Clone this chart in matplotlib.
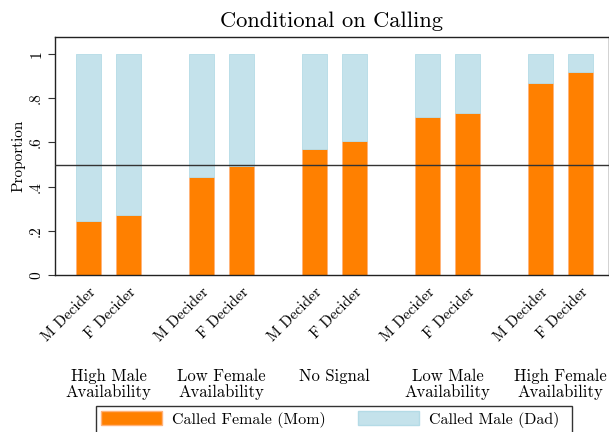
import matplotlib.pyplot as plt
from matplotlib.patches import Patch, Rectangle
import numpy as np

plt.rcParams['font.family'] = ['cmr10', 'DejaVu Serif']
plt.rcParams['axes.unicode_minus'] = False

groups = ['High Male\nAvailability', 'Low Female\nAvailability', 'No Signal',
          'Low Male\nAvailability', 'High Female\nAvailability']
deciders = ['M Decider', 'F Decider']
# share calling the mother, [M decider, F decider] per group
mom_m = [0.243, 0.443, 0.568, 0.715, 0.869]
mom_f = [0.270, 0.493, 0.608, 0.733, 0.919]
y_ticks = [0, 0.2, 0.4, 0.6, 0.8, 1.0]
y_ticklabels = ['0', '.2', '.4', '.6', '.8', '1']

orange = '#ff8000'
ltblue = '#c4e2eb'

fig = plt.figure(figsize=(6.09, 4.32), dpi=100)
ax = fig.add_axes([0.0903, 0.3634, 0.9097, 0.551])

x = np.arange(len(groups))
off = 0.177
w = 0.217
pos = np.concatenate([x - off, x + off])
mom = np.array(mom_m + mom_f)
dad = 1 - mom
ax.bar(pos, mom, width=w, color=orange, edgecolor='#ffb27a', linewidth=0.6, zorder=2)
ax.bar(pos, dad, bottom=mom, width=w, color=ltblue, edgecolor='#b4dbe6', linewidth=0.6, zorder=2)
ax.axhline(0.5, color='#333333', lw=1.0, zorder=3)

ax.set_xlim(-0.473, 4.43)
ax.set_ylim(0, 1.077)
ax.set_yticks(y_ticks)
ax.set_yticklabels(y_ticklabels, rotation=90, va='center', fontsize=11)
ax.set_ylabel('Proportion', fontsize=11, labelpad=3)

order = np.argsort(pos)
ax.set_xticks(pos[order])
ax.set_xticklabels([deciders[0] if i < len(groups) else deciders[1] for i in order],
                   rotation=45, ha='right', rotation_mode='anchor', fontsize=11)
ax.tick_params(axis='y', length=5, width=0.8, color='#333333')
ax.tick_params(axis='x', length=0, pad=7)

for xi, g in zip(x, groups):
    ax.text(xi, -0.392, g, transform=ax.get_xaxis_transform(), ha='center', va='top',
            fontsize=12, linespacing=1.05)

for s in ax.spines.values():
    s.set_color('#222222')
    s.set_linewidth(1.0)

ax.set_title('Conditional on Calling', fontsize=16.2, pad=7)

# legend frame spans wide like the original
fig.add_artist(Rectangle((96 / 609, -0.02), (572 - 96) / 609, 0.02 + 26 / 432,
                         transform=fig.transFigure, fill=False, edgecolor='#333333', lw=1.0))
handles = [Patch(facecolor=orange, edgecolor='#ffb27a', label='Called Female (Mom)'),
           Patch(facecolor=ltblue, edgecolor='#b4dbe6', label='Called Male (Dad)')]
leg = fig.legend(handles=handles, loc='upper left', bbox_to_anchor=(98 / 609, 1 - 408 / 432), ncol=2,
                 fontsize=11.5, frameon=False, handlelength=3.8, handleheight=1.0,
                 handletextpad=0.63, columnspacing=2.06, borderpad=0.2, borderaxespad=0)

fig.savefig('out.png', dpi=100)
